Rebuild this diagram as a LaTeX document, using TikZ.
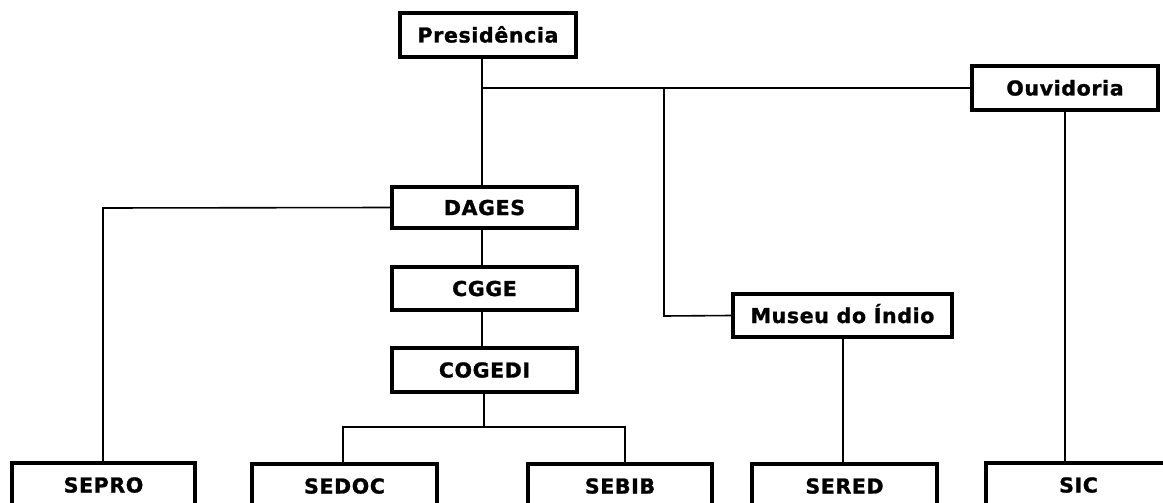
\documentclass[tikz,border=0pt]{standalone}
\usepackage{fontspec}
\setmainfont{DejaVu Sans}
\newfontfamily\orgfont{DejaVu Sans Bold}[FakeBold=1.2, LetterSpace=3]
\begin{document}
\begin{tikzpicture}[x=0.75pt,y=-0.75pt,
  orgbox/.style={draw=black, line width=2.4pt, fill=white, inner sep=0pt,
    minimum height=#1*0.75pt, text height=11.25pt, text depth=0pt,
    font=\orgfont\fontsize{15.4pt}{18pt}\selectfont},
  orgbox/.default=44,
  wd/.style={minimum width=#1*0.75pt},
  link/.style={draw=black, line width=1.2pt}]
\clip (0,0) rectangle (1163,503);
\useasboundingbox (0,0) rectangle (1163,503);
\fill[white] (0,0) rectangle (1163,503);

% junction coordinates
\coordinate (jtop) at (482,88);
\coordinate (jmus) at (664,88);
\coordinate (jmusb) at (664,316);
\coordinate (jsep) at (103,208);
\coordinate (jcog) at (484,427);
\coordinate (jsedoc) at (343,427);
\coordinate (jsebib) at (625,427);
\coordinate (jsered) at (843,0);

% nodes
\node[orgbox=44, wd=176] (pres) at (488,35) {Presidência};
\node[orgbox=44, wd=186] (ouv) at (1065,88) {Ouvidoria};
\node[orgbox=41, wd=185] (dages) at (484.5,207.5) {DAGES};
\node[orgbox=43, wd=185] (cgge) at (484.5,288.5) {CGGE};
\node[orgbox=44, wd=185] (cogedi) at (484.5,370) {COGEDI};
\node[orgbox=43, wd=219] (museu) at (842.5,315.5) {Museu do Índio};
\node[orgbox=44, wd=183] (sepro) at (103.5,485) {SEPRO};
\node[orgbox=44, wd=185] (sedoc) at (344.5,486) {SEDOC};
\node[orgbox=44, wd=184] (sebib) at (620,486) {SEBIB};
\node[orgbox=44, wd=185] (sered) at (844.5,486) {SERED};
\node[orgbox=44, wd=185] (sic) at (1078.5,485) {SIC};

% connectors
\draw[link] (pres.south -| jtop) -- (dages.north -| jtop);
\draw[link] (jtop) -- (ouv.west);
\draw[link] (jmus) -- (jmusb) -- (museu.west);
\draw[link] (ouv.south) -- (ouv.south |- sic.north);
\draw[link] (museu.south -| jsered) -- (sered.north -| jsered);
\draw[link] (dages.west) -- (jsep) -- (sepro.north -| jsep);
\draw[link] (dages.south -| jtop) -- (cgge.north -| jtop);
\draw[link] (cgge.south -| jtop) -- (cogedi.north -| jtop);
\draw[link] (cogedi.south -| jcog) -- (jcog);
\draw[link] (sedoc.north -| jsedoc) -- (jsedoc) -- (jsebib) -- (sebib.north -| jsebib);
\end{tikzpicture}
\end{document}
